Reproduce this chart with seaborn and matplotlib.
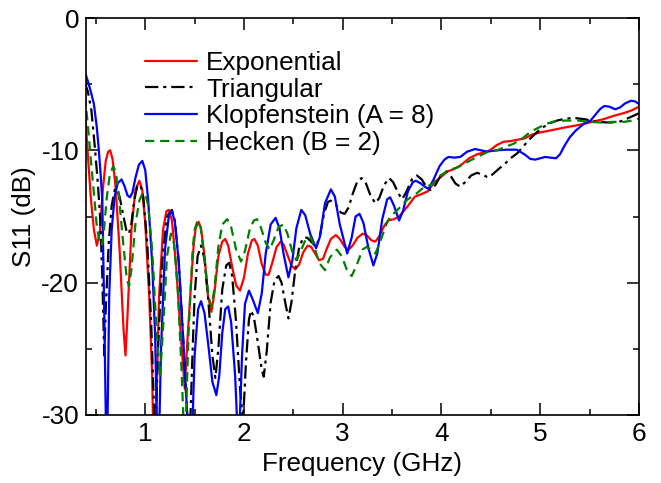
import numpy as np
import pandas as pd
import matplotlib
matplotlib.use("Agg")
import matplotlib.pyplot as plt
import seaborn as sns

# ---------------- data ----------------
exp_f = [0.39, 0.42, 0.45, 0.48, 0.51, 0.54, 0.57, 0.60, 0.625, 0.645, 0.67, 0.70, 0.74, 0.78,
         0.80, 0.82, 0.86, 0.90, 0.94, 0.97, 1.00, 1.04, 1.07, 1.09, 1.11, 1.14, 1.18, 1.215,
         1.24, 1.27, 1.31, 1.36, 1.40, 1.43, 1.46, 1.49, 1.51, 1.54, 1.565, 1.60, 1.635, 1.67,
         1.70, 1.74, 1.78, 1.81, 1.84, 1.88, 1.92, 1.96, 2.00, 2.04, 2.08, 2.105, 2.14, 2.18,
         2.22, 2.25, 2.29, 2.33, 2.37, 2.40, 2.44, 2.48, 2.52, 2.56, 2.60, 2.645, 2.68, 2.72,
         2.76, 2.80, 2.84, 2.88, 2.93, 2.97, 3.02, 3.06, 3.10, 3.15, 3.20, 3.24, 3.29, 3.33,
         3.37, 3.42, 3.46, 3.52, 3.57, 3.65, 3.73, 3.80, 3.86, 3.93, 3.98, 4.06, 4.13, 4.20,
         4.28, 4.36, 4.43, 4.49, 4.56, 4.63, 4.70, 4.77, 4.84, 4.92, 5.00, 5.10, 5.23, 5.34,
         5.44, 5.55, 5.64, 5.74, 5.84, 5.92, 6.00]
exp_db = [-7.0, -10.5, -13.7, -16.0, -17.2, -16.2, -13.0, -10.8, -10.1, -10.0, -10.7, -12.8,
          -17.5, -23.5, -25.5, -22.5, -16.0, -13.0, -12.3, -13.0, -15.5, -21.0, -27.0, -35.0,
          -30.0, -21.0, -16.0, -14.6, -14.5, -15.3, -18.5, -24.0, -28.0, -24.0, -20.5, -17.2,
          -15.9, -15.4, -15.9, -18.0, -21.0, -22.2, -20.8, -18.0, -16.9, -16.7, -17.2, -18.8,
          -20.2, -20.6, -19.6, -17.8, -16.8, -16.7, -17.2, -18.6, -19.4, -19.4, -18.4, -17.3,
          -16.9, -17.1, -17.9, -18.7, -19.0, -18.6, -17.7, -17.2, -17.3, -17.8, -18.3, -18.2,
          -17.4, -16.7, -16.4, -16.7, -17.3, -17.5, -17.2, -16.6, -16.3, -16.4, -16.8, -16.9,
          -16.5, -15.7, -15.3, -15.2, -15.0, -14.3, -13.5, -13.3, -13.1, -12.4, -12.1, -11.6,
          -11.4, -11.1, -10.6, -10.3, -10.15, -10.0, -9.6, -9.35, -9.3, -9.2, -9.1, -8.8,
          -8.65, -8.5, -8.3, -8.15, -8.0, -7.8, -7.65, -7.4, -7.2, -7.0, -6.7]

tri_f = [0.39, 0.42, 0.455, 0.49, 0.52, 0.545, 0.565, 0.585, 0.60, 0.63, 0.66, 0.69, 0.71,
         0.74, 0.78, 0.81, 0.835, 0.86, 0.89, 0.92, 0.95, 0.98, 1.02, 1.06, 1.10, 1.13, 1.17,
         1.22, 1.27, 1.30, 1.34, 1.39, 1.445, 1.48, 1.50, 1.53, 1.565, 1.60, 1.64, 1.68, 1.71,
         1.74, 1.78, 1.82, 1.85, 1.88, 1.92, 1.96, 1.99, 2.02, 2.05, 2.07, 2.10, 2.14, 2.18,
         2.20, 2.23, 2.27, 2.31, 2.35, 2.38, 2.42, 2.45, 2.48, 2.52, 2.56, 2.60, 2.64, 2.68,
         2.73, 2.77, 2.81, 2.85, 2.88, 2.93, 2.98, 3.02, 3.06, 3.10, 3.15, 3.19, 3.23, 3.28,
         3.33, 3.37, 3.42, 3.47, 3.51, 3.56, 3.60, 3.64, 3.70, 3.75, 3.80, 3.85, 3.89, 3.94,
         4.00, 4.05, 4.09, 4.14, 4.19, 4.24, 4.30, 4.36, 4.42, 4.47, 4.52, 4.58, 4.63, 4.70,
         4.77, 4.84, 4.90, 4.97, 5.04, 5.10, 5.17, 5.26, 5.34, 5.45, 5.58, 5.70, 5.80, 5.88,
         5.94, 6.00]
tri_db = [-4.9, -5.6, -7.0, -9.8, -12.5, -15.3, -19.5, -25.5, -22.0, -17.0, -14.2, -13.0,
          -12.9, -13.5, -15.0, -16.1, -16.3, -15.5, -13.7, -12.7, -12.6, -13.5, -17.0, -23.0,
          -32.0, -25.0, -18.5, -15.0, -14.5, -15.3, -18.5, -25.0, -33.0, -25.0, -21.0, -18.0,
          -17.2, -18.2, -21.5, -25.5, -27.2, -25.0, -20.5, -18.7, -18.5, -19.5, -23.0, -28.0,
          -30.5, -26.0, -22.8, -22.1, -22.6, -24.5, -26.6, -27.1, -25.2, -21.5, -19.8, -19.5,
          -20.0, -21.6, -22.7, -21.5, -19.0, -17.3, -16.6, -16.6, -16.9, -17.3, -16.4, -14.8,
          -13.9, -13.8, -14.1, -14.7, -14.8, -14.3, -13.3, -12.3, -12.1, -12.4, -13.4, -14.0,
          -13.6, -12.6, -12.1, -12.4, -13.2, -13.7, -13.2, -12.2, -11.9, -12.2, -12.8, -13.0,
          -12.6, -11.8, -11.6, -11.9, -12.5, -12.75, -12.4, -11.9, -11.7, -11.85, -12.05,
          -11.8, -11.4, -11.1, -10.6, -10.2, -9.6, -9.1, -8.6, -8.2, -7.95, -7.75, -7.6,
          -7.55, -7.65, -7.85, -7.9, -7.85, -7.6, -7.4, -7.2]

klo_f = [0.39, 0.42, 0.45, 0.48, 0.51, 0.53, 0.55, 0.565, 0.585, 0.61, 0.635, 0.66, 0.69,
         0.72, 0.76, 0.79, 0.82, 0.845, 0.87, 0.90, 0.935, 0.97, 1.00, 1.03, 1.07, 1.10, 1.13,
         1.16, 1.20, 1.24, 1.27, 1.30, 1.34, 1.39, 1.46, 1.50, 1.535, 1.565, 1.60, 1.64, 1.68,
         1.72, 1.75, 1.78, 1.81, 1.84, 1.87, 1.91, 1.945, 1.98, 2.01, 2.05, 2.09, 2.14, 2.18,
         2.22, 2.27, 2.32, 2.36, 2.40, 2.45, 2.49, 2.53, 2.58, 2.62, 2.67, 2.73, 2.77, 2.82,
         2.88, 2.92, 2.97, 3.045, 3.09, 3.13, 3.17, 3.21, 3.26, 3.31, 3.35, 3.40, 3.45, 3.48,
         3.52, 3.57, 3.61, 3.66, 3.71, 3.74, 3.79, 3.84, 3.87, 3.92, 3.98, 4.03, 4.07, 4.13,
         4.19, 4.26, 4.34, 4.40, 4.46, 4.56, 4.66, 4.76, 4.84, 4.90, 4.95, 5.00, 5.05, 5.10,
         5.16, 5.20, 5.25, 5.30, 5.36, 5.44, 5.51, 5.57, 5.61, 5.65, 5.70, 5.76, 5.81, 5.86,
         5.92, 5.96, 6.00]
klo_db = [-4.1, -4.8, -5.6, -6.5, -8.3, -10.0, -12.0, -13.75, -22.3, -35.0, -21.0, -16.0,
          -13.5, -12.5, -12.2, -12.7, -13.4, -13.55, -13.2, -12.1, -11.1, -10.8, -11.5, -13.8,
          -18.5, -24.0, -35.0, -25.0, -17.5, -14.9, -14.6, -15.4, -18.5, -25.0, -35.0, -25.5,
          -22.0, -21.4, -22.3, -24.8, -27.5, -28.5, -27.0, -23.8, -22.0, -21.8, -23.0, -27.0,
          -33.0, -25.5, -21.6, -20.6, -21.3, -22.3, -20.8, -17.8, -15.6, -15.1, -15.9, -17.8,
          -19.6, -18.3, -15.9, -14.5, -14.9, -16.3, -17.4, -16.5, -14.0, -12.95, -13.5, -15.6,
          -17.8, -16.6, -15.0, -14.8, -15.5, -17.4, -18.7, -17.8, -15.2, -13.7, -13.55, -14.2,
          -15.3, -14.6, -13.1, -12.4, -12.3, -12.5, -12.8, -12.9, -12.2, -11.2, -10.7, -10.5,
          -10.55, -10.5, -10.1, -9.9, -10.0, -10.1, -10.0, -9.95, -9.95, -10.3, -10.65, -10.7,
          -10.6, -10.5, -10.55, -10.6, -10.3, -9.6, -9.0, -8.5, -8.0, -7.75, -7.2, -6.85,
          -6.65, -6.7, -6.9, -6.75, -6.45, -6.25, -6.3, -6.5]

hec_f = [0.39, 0.42, 0.45, 0.48, 0.51, 0.54, 0.56, 0.58, 0.61, 0.64, 0.675, 0.70, 0.73, 0.77,
         0.81, 0.835, 0.86, 0.90, 0.94, 0.97, 1.00, 1.03, 1.07, 1.11, 1.15, 1.18, 1.22, 1.26,
         1.29, 1.33, 1.37, 1.40, 1.44, 1.48, 1.50, 1.53, 1.56, 1.60, 1.64, 1.67, 1.70, 1.74,
         1.78, 1.83, 1.87, 1.92, 1.97, 2.01, 2.06, 2.10, 2.13, 2.17, 2.22, 2.26, 2.30, 2.35,
         2.40, 2.44, 2.49, 2.53, 2.57, 2.62, 2.67, 2.71, 2.76, 2.82, 2.87, 2.94, 2.99, 3.04,
         3.09, 3.14, 3.20, 3.24, 3.29, 3.33, 3.38, 3.44, 3.49, 3.52, 3.58, 3.65, 3.74, 3.82,
         3.90, 3.97, 4.07, 4.16, 4.26, 4.36, 4.46, 4.56, 4.66, 4.73, 4.82, 4.90, 4.98, 5.06,
         5.15, 5.26, 5.38, 5.50, 5.62, 5.74, 5.85, 5.93, 6.00]
hec_db = [-5.9, -8.2, -10.8, -13.25, -15.8, -17.0, -17.2, -16.2, -13.6, -11.9, -11.2, -11.6,
          -13.2, -16.5, -19.5, -20.3, -19.0, -15.6, -13.8, -13.3, -13.25, -14.2, -17.5, -23.0,
          -27.1, -23.5, -18.0, -16.3, -17.0, -20.5, -27.0, -33.0, -23.5, -17.5, -16.0, -15.3,
          -15.8, -18.2, -21.0, -21.8, -20.5, -17.3, -15.6, -15.2, -15.8, -17.5, -18.4, -17.6,
          -15.9, -15.3, -15.2, -15.8, -17.0, -17.5, -16.8, -15.8, -15.6, -16.3, -17.7, -18.3,
          -17.7, -16.8, -16.5, -17.2, -18.5, -19.05, -18.1, -17.5, -18.0, -19.0, -19.5, -18.7,
          -17.5, -17.3, -17.5, -17.8, -16.9, -15.6, -14.9, -14.75, -14.3, -13.75, -13.3, -12.8,
          -12.6, -12.0, -11.5, -11.3, -10.9, -10.5, -10.15, -10.0, -9.7, -9.5, -9.1, -8.6,
          -8.3, -8.0, -7.8, -7.75, -7.75, -7.85, -7.9, -7.85, -7.85, -7.75, -7.6]

labels = ["Exponential", "Triangular", "Klopfenstein (A = 8)", "Hecken (B = 2)"]
x_ticks = [1, 2, 3, 4, 5, 6]
y_ticks = [-30, -20, -10, 0]

# ---------------- styling ----------------
sns.set_theme(style="ticks")
plt.rcParams["font.family"] = ["Liberation Sans", "DejaVu Sans"]
plt.rcParams["axes.unicode_minus"] = False
plt.rcParams["text.color"] = "black"
plt.rcParams["axes.labelcolor"] = "black"
plt.rcParams["xtick.color"] = "black"
plt.rcParams["ytick.color"] = "black"
plt.rcParams["lines.solid_joinstyle"] = "round"
plt.rcParams["lines.dash_joinstyle"] = "round"
FS = 18.8

fig = plt.figure(figsize=(6.61, 4.83), dpi=100)
ax = fig.add_axes([86 / 661, 1 - 415 / 483, (639 - 86) / 661, (415 - 18) / 483])

series = [
    (exp_f, exp_db, "#ff0000", None),
    (tri_f, tri_db, "#000000", (6, 2.2, 1.4, 2.2)),
    (klo_f, klo_db, "#0000ff", None),
    (hec_f, hec_db, "#008000", (4.2, 2.6)),
]
for (f, d, c, dash), lab in zip(series, labels):
    df = pd.DataFrame({"f": f, "db": d})
    sns.lineplot(data=df, x="f", y="db", ax=ax, color=c, lw=1.6, sort=False,
                 label=lab, estimator=None)
    if dash is not None:
        ax.lines[-1].set_dashes(dash)

ax.set_xlim(0.4, 6)
ax.set_ylim(-30, 0)
ax.set_xticks(x_ticks)
ax.set_yticks(y_ticks)
ax.set_xticks(np.arange(0.5, 6.01, 0.5), minor=True)
ax.set_yticks([-25, -15, -5], minor=True)
ax.tick_params(which="both", direction="in", top=True, right=True, width=1.1,
               labelsize=FS, colors="black", labelcolor="black", pad=5)
ax.tick_params(which="major", length=8.5)
ax.tick_params(which="minor", length=4.3)
for s in ax.spines.values():
    s.set_linewidth(1.2)
    s.set_color("black")
ax.set_xlabel("Frequency (GHz)", fontsize=FS, labelpad=4, color="black")
ax.set_ylabel("S11 (dB)", fontsize=FS, labelpad=4, color="black")

leg = ax.legend(loc="upper left", bbox_to_anchor=((145 - 86) / 553, (415 - 51) / 397),
                frameon=False, fontsize=FS, handlelength=2.0, handletextpad=0.35,
                labelspacing=0.1, borderpad=0, borderaxespad=0)
for h in leg.get_lines():
    h.set_linewidth(1.6)
for t in leg.get_texts():
    t.set_color("black")

fig.savefig("out.png", dpi=100)
